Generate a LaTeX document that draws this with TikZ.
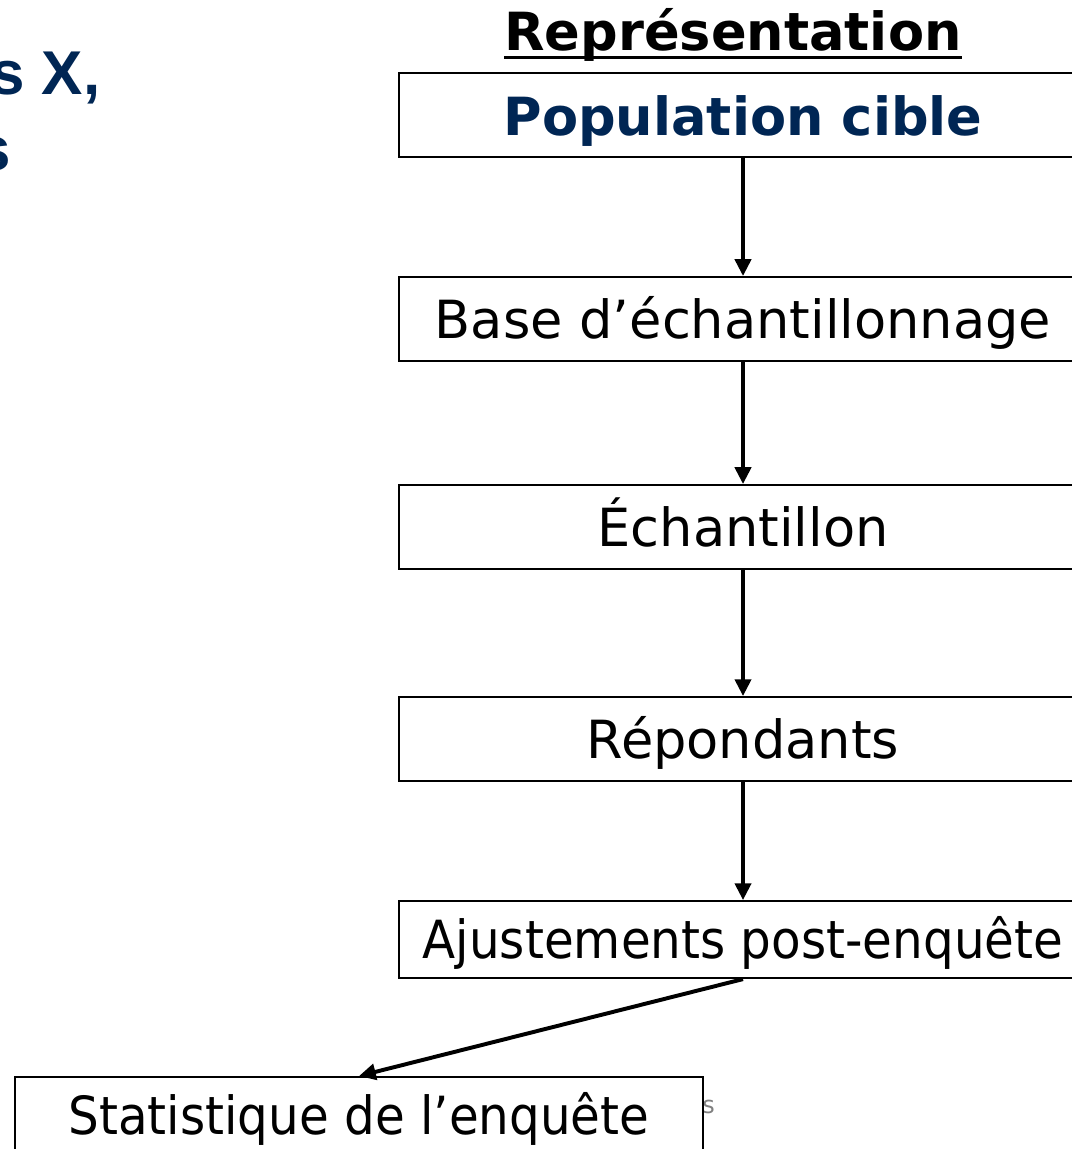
\documentclass[tikz,border=0pt]{standalone}
\usepackage{fontspec}
\setmainfont{DejaVu Sans}
\newfontfamily\condfont[FakeStretch=0.92]{DejaVu Sans}
\newfontfamily\titlefont{Liberation Sans}
\usetikzlibrary{positioning,arrows.meta}
\definecolor{titleblue}{RGB}{0,38,84}

\begin{document}
\begin{tikzpicture}[x=0.025cm, y=-0.025cm,
    >={Triangle[width=0.4cm,length=0.42cm]},
    stage/.style={draw, line width=1.4pt, fill=white,
        minimum width=17.2cm, minimum height=2.1cm, inner sep=0pt,
        text height=1cm, text depth=0.05cm,
        font=\fontsize{37.4}{45}\selectfont},
    flow/.style={->, line width=2.8pt}]
    \useasboundingbox (0,0) rectangle (1071,1149);

    % slide title, cut at the left
    \node [anchor=base west, inner sep=0pt, text=titleblue,
        font=\fontsize{44}{52}\selectfont\titlefont\bfseries
    ]  (TitleA) at (-10,95) {s X,};
    \node [anchor=base west, inner sep=0pt, text=titleblue,
        font=\fontsize{44}{52}\selectfont\titlefont\bfseries
    ]  (TitleB) at (-24,171) {s};

    % heading
    \node [anchor=base, inner sep=0pt,
        font=\fontsize{37.4}{45}\selectfont\bfseries
    ]  (Heading) at (733,51) {Représentation};
    \draw [line width=2.2pt] ([yshift=-0.16cm]Heading.base west)
        -- ([yshift=-0.16cm]Heading.base east);

    % chain of stages
    \node [stage, text height=1.05cm,
        font=\fontsize{37.4}{45}\selectfont\bfseries, text=titleblue
    ]  (Population) at (743,115) {Population cible};
    \node [stage,
        below=2.95cm of Population
    ]  (Base) {Base d’échantillonnage};
    \node [stage,
        below=3.05cm of Base
    ]  (Echantillon) {Échantillon};
    \node [stage,
        below=3.15cm of Echantillon
    ]  (Repondants) {Répondants};
    \node [stage, minimum height=1.925cm,
        font=\fontsize{37.4}{45}\selectfont\condfont,
        below=2.95cm of Repondants
    ]  (Ajustements) {Ajustements post-enquête};

    % footer, mostly hidden
    \node [anchor=base west, inner sep=0pt, text=gray,
        font=\fontsize{17}{20}\selectfont
    ]  (Footer) at (702,1113) {s};

    \node [stage, minimum height=1.925cm,
        font=\fontsize{37.4}{45}\selectfont\condfont
    ]  (Statistique) at (359,1115.5) {Statistique de l’enquête};

    \draw [flow] (Population.south) -- (Base.north);
    \draw [flow] (Base.south) -- (Echantillon.north);
    \draw [flow] (Echantillon.south) -- (Repondants.north);
    \draw [flow] (Repondants.south) -- (Ajustements.north);
    \draw [flow] (Ajustements.south) -- (Statistique.north);
\end{tikzpicture}
\end{document}
